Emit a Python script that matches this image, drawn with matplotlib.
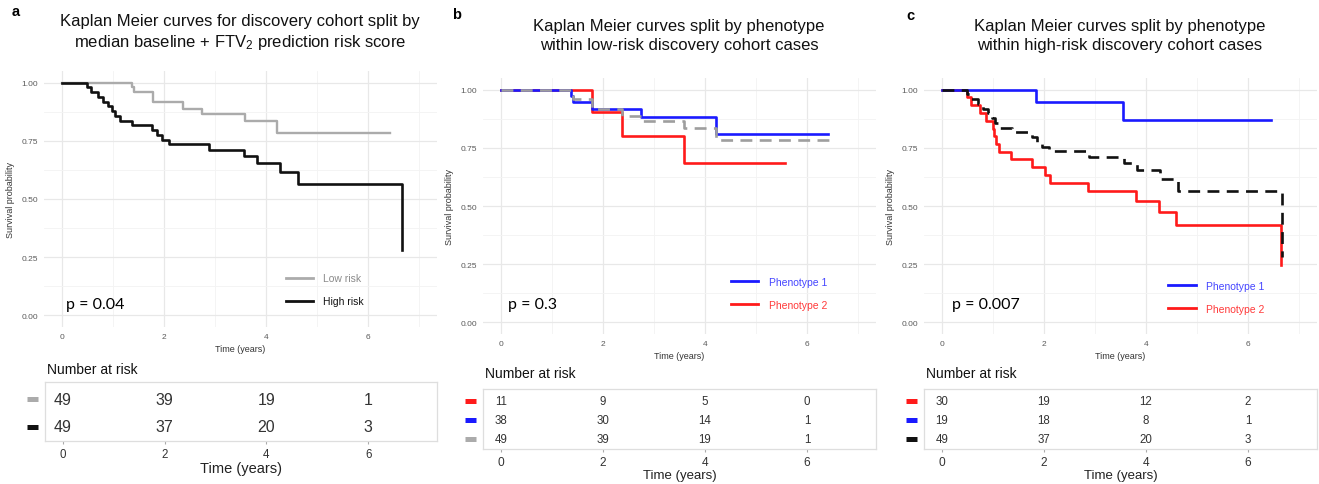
import matplotlib
matplotlib.use('Agg')
import matplotlib.pyplot as plt
from matplotlib.lines import Line2D
from matplotlib.transforms import blended_transform_factory

plt.rcParams['font.family'] = ['Liberation Sans', 'DejaVu Sans']
plt.rcParams['mathtext.fontset'] = 'custom'
plt.rcParams['mathtext.rm'] = 'Liberation Sans'
plt.rcParams['mathtext.it'] = 'Liberation Sans:italic'

# ---- data ----
years = [0, 2, 4, 6]

# panel a: whole discovery cohort split by risk score
low_t = [0, 1.37, 1.42, 1.78, 2.38, 2.75, 3.58, 4.21, 6.42]
low_s = [1.0, 0.980, 0.959, 0.918, 0.888, 0.867, 0.835, 0.782, 0.782]
high_t = [0, 0.49, 0.58, 0.70, 0.80, 0.90, 0.99, 1.05, 1.14, 1.38, 1.77, 1.86, 1.97,
          2.09, 2.88, 3.56, 3.82, 4.28, 4.63, 6.67, 6.67]
high_s = [1.0, 0.980, 0.959, 0.939, 0.918, 0.898, 0.878, 0.857, 0.837, 0.816, 0.796,
          0.776, 0.755, 0.735, 0.711, 0.686, 0.653, 0.614, 0.563, 0.283, 0.283]
risk_a = {'Low risk': [49, 39, 19, 1], 'High risk': [49, 37, 20, 3]}

# panel b: low-risk cases by phenotype
b_p1_t = [0, 1.37, 1.42, 1.78, 2.75, 4.21, 6.41]
b_p1_s = [1.0, 0.974, 0.946, 0.917, 0.881, 0.809, 0.809]
b_p2_t = [0, 1.78, 2.38, 3.58, 5.56]
b_p2_s = [1.0, 0.903, 0.800, 0.685, 0.685]
risk_b = {'Phenotype 2': [11, 9, 5, 0], 'Phenotype 1': [38, 30, 14, 1], 'All': [49, 39, 19, 1]}

# panel c: high-risk cases by phenotype
c_p1_t = [0, 1.85, 3.54, 6.44]
c_p1_s = [1.0, 0.948, 0.868, 0.868]
c_p2_t = [0, 0.49, 0.58, 0.74, 0.86, 1.00, 1.03, 1.07, 1.12, 1.36, 1.77, 2.02, 2.12,
          2.86, 3.81, 4.25, 4.59, 6.65, 6.65]
c_p2_s = [1.0, 0.967, 0.933, 0.900, 0.867, 0.833, 0.800, 0.767, 0.733, 0.700, 0.667,
          0.633, 0.600, 0.566, 0.523, 0.476, 0.420, 0.245, 0.245]
risk_c = {'Phenotype 2': [30, 19, 12, 2], 'Phenotype 1': [19, 18, 8, 1], 'All': [49, 37, 20, 3]}

p_values = ['p = 0.04', 'p = 0.3', 'p = 0.007']

GRAY = '#ababab'
BLACK = '#111111'
BLUE = '#1a1aff'
RED = '#ff1a1a'
W, H = 1319, 485


def px(x0, y0, x1, y1):
    # pixel box -> figure fraction
    return [x0 / W, 1 - y1 / H, (x1 - x0) / W, (y1 - y0) / H]


def style_km(ax):
    ax.set_xlim(-0.35, 7.35)
    ax.set_ylim(-0.05, 1.05)
    ax.set_xticks(years)
    ax.set_xticks([1, 3, 5, 7], minor=True)
    ax.set_yticks([0, 0.25, 0.5, 0.75, 1.0])
    ax.set_yticklabels(['0.00', '0.25', '0.50', '0.75', '1.00'])
    ax.set_yticks([0.125, 0.375, 0.625, 0.875], minor=True)
    ax.grid(which='major', color='#e8e8e8', lw=0.9)
    ax.grid(which='minor', color='#f3f3f3', lw=0.6)
    ax.set_axisbelow(True)
    for s in ax.spines.values():
        s.set_visible(False)
    ax.tick_params(which='both', length=0, labelsize=6, labelcolor='#5a5a5a', pad=4)
    ax.set_xlabel('Time (years)', fontsize=6.5, color='#333333', labelpad=3)
    ax.set_ylabel('Survival probability', fontsize=6.5, color='#333333', labelpad=5)


def add_legend(ax, labels, colors, textcolors, x0, yc):
    handles = [Line2D([], [], color=c, lw=2.0) for c in colors]
    ax.legend(handles, labels, loc='center left', bbox_to_anchor=(x0, yc),
              frameon=False, fontsize=7.5, handlelength=2.6, handletextpad=1.0,
              labelspacing=1.25, borderpad=0, borderaxespad=0, labelcolor=textcolors)


def risk_table(ax, table, colors, numsize, title_off, tick_size, label_size):
    n = len(table)
    ax.set_xlim(-0.35, 7.35)
    ax.set_ylim(0.47, n + 0.63)
    tr = blended_transform_factory(ax.transAxes, ax.transData)
    for i, (name, vals) in enumerate(table.items()):
        y = n - i
        for t, v in zip(years, vals):
            ax.text(t, y, str(v), ha='center', va='center', fontsize=numsize, color='#333333')
        ax.plot([-0.047, -0.018], [y, y], transform=tr, color=colors[i], lw=3.6,
                solid_capstyle='butt', clip_on=False)
    ax.set_yticks([])
    ax.set_xticks(years)
    for s in ax.spines.values():
        s.set_color('#dedede')
        s.set_linewidth(0.9)
    ax.tick_params(axis='x', length=2, width=0.8, color='#aaaaaa', labelsize=tick_size,
                   labelcolor='#333333', pad=3)
    ax.set_xlabel('Time (years)', fontsize=label_size, color='#222222', labelpad=1)
    ax.text(0.005, 1 + title_off, 'Number at risk', transform=ax.transAxes,
            ha='left', va='center', fontsize=10, color='#111111')


fig = plt.figure(figsize=(13.19, 4.85), dpi=100)

# ---------- panel a ----------
ax = fig.add_axes(px(44, 72, 437, 328))
style_km(ax)
ax.step(low_t, low_s, where='post', color=GRAY, lw=1.7)
ax.step(high_t, high_s, where='post', color=BLACK, lw=1.9)
ax.text(0.09, 0.05, p_values[0], fontsize=11.5, va='center', family=['Lato', 'DejaVu Sans'])
add_legend(ax, ['Low risk', 'High risk'], [GRAY, BLACK], ['#8a8a8a', '#111111'], 0.615, 0.145)

rt = fig.add_axes(px(45, 383, 437, 442))
risk_table(rt, risk_a, [GRAY, BLACK], 11.5, 0.215, 8.3, 10.5)

# ---------- panel b ----------
ax = fig.add_axes(px(483, 79, 876, 335))
style_km(ax)
ax.step(b_p2_t, b_p2_s, where='post', color=RED, lw=1.9)
ax.step(b_p1_t, b_p1_s, where='post', color=BLUE, lw=1.9)
ax.step(low_t, low_s, where='post', color='#9e9e9e', lw=1.9, ls=(0, (4.5, 2.8)))
ax.text(0.14, 0.079, p_values[1], fontsize=11.5, va='center', family=['Lato', 'DejaVu Sans'])
add_legend(ax, ['Phenotype 1', 'Phenotype 2'], [BLUE, RED], ['#4545ff', '#ff3a3a'], 0.632, 0.158)

rt = fig.add_axes(px(483, 390, 876, 450))
risk_table(rt, risk_b, [RED, BLUE, GRAY], 8.3, 0.267, 8.6, 9.5)

# ---------- panel c ----------
ax = fig.add_axes(px(924, 79, 1317, 335))
style_km(ax)
ax.step(c_p2_t, c_p2_s, where='post', color=RED, lw=1.9)
ax.step(c_p1_t, c_p1_s, where='post', color=BLUE, lw=1.9)
ax.step(high_t, high_s, where='post', color=BLACK, lw=1.9, ls=(0, (4.5, 2.8)))
ax.text(0.2, 0.079, p_values[2], fontsize=11.5, va='center', family=['Lato', 'DejaVu Sans'])
add_legend(ax, ['Phenotype 1', 'Phenotype 2'], [BLUE, RED], ['#4545ff', '#ff3a3a'], 0.622, 0.143)

rt = fig.add_axes(px(924, 390, 1317, 450))
risk_table(rt, risk_c, [RED, BLUE, BLACK], 8.3, 0.267, 8.6, 9.5)

# ---------- titles and panel letters ----------
titles = [
    'Kaplan Meier curves for discovery cohort split by\nmedian baseline + FTV$_2$ prediction risk score',
    'Kaplan Meier curves split by phenotype\nwithin low-risk discovery cohort cases',
    'Kaplan Meier curves split by phenotype\nwithin high-risk discovery cohort cases',
]
title_x = [240, 679, 1120]
title_y = [33, 36, 36]
for t, x, y in zip(titles, title_x, title_y):
    fig.text(x / W, 1 - y / H, t, ha='center', va='center', fontsize=12, linespacing=1.35,
             color='#111111')

for letter, x, y in zip(['a', 'b', 'c'], [12, 452, 906], [12, 15, 16]):
    fig.text(x / W, 1 - y / H, letter, ha='left', va='center', fontsize=10.5,
             fontweight='bold')

fig.savefig('out.png', dpi=100)
